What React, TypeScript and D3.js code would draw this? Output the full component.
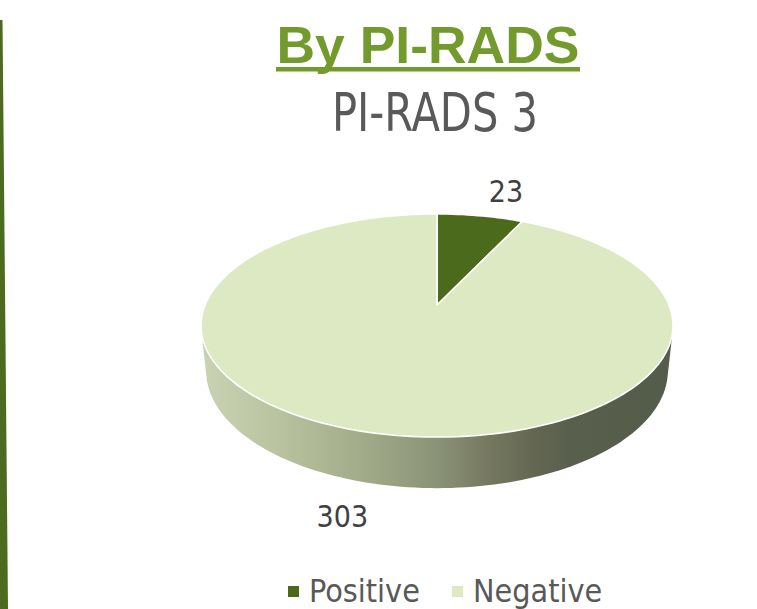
import React from "react";
import * as d3 from "d3";

const title = "By PI-RADS";
const subtitle = "PI-RADS 3";
const categories = ["Positive", "Negative"];
const values = [23, 303];
const topColors = ["#4b6a1b", "#dde9c2"];

const W = 757;
const H = 609;

// 3D perspective parameters
const CX = 437;
const CY = 305;
const PHI = (27.7 * Math.PI) / 180;
const DIST = 4.82;
const FOC = 1118;
const DEPTH = 0.222;

function project(theta: number, r: number, y: number): [number, number] {
  const u = r * Math.sin(theta);
  const v = r * Math.cos(theta);
  const up = v * Math.sin(PHI) + y * Math.cos(PHI);
  const depth = DIST + v * Math.cos(PHI) - y * Math.sin(PHI);
  return [CX + (FOC * u) / depth, CY - (FOC * up) / depth];
}

export default function App() {
  const pie = d3.pie<number>().sort(null).value((d) => d);
  const arcs = pie(values);

  const steps = 240;
  const rimPts: [number, number][] = [];
  for (let i = 0; i < steps; i++) {
    const t = (i / steps) * Math.PI * 2;
    rimPts.push(project(t, 1, 0));
    rimPts.push(project(t, 1, -DEPTH));
  }
  const hull = d3.polygonHull(rimPts) || [];
  const line = d3.line<[number, number]>().curve(d3.curveLinearClosed);

  const slicePaths = arcs.map((a) => {
    const pts: [number, number][] = [project(0, 0, 0)];
    const n = Math.max(8, Math.ceil(((a.endAngle - a.startAngle) / (Math.PI * 2)) * steps));
    for (let i = 0; i <= n; i++) {
      const t = a.startAngle + ((a.endAngle - a.startAngle) * i) / n;
      pts.push(project(t, 1, 0));
    }
    return line(pts) || "";
  });

  // label positions: outside the slice at its mid angle
  const labelPts = arcs.map((a) => {
    const mid = (a.startAngle + a.endAngle) / 2;
    const onTop = Math.cos(mid) > 0;
    const p = project(mid, 1, onTop ? 0 : -DEPTH);
    const dx = p[0] - CX;
    const dy = p[1] - CY;
    const len = Math.hypot(dx, dy) || 1;
    const push = onTop ? 36 : 44;
    return [p[0] + (dx / len) * push + (onTop ? 10 : -20), p[1] + (dy / len) * push + (onTop ? 8 : -10)];
  });

  const legendX = [288, 452];

  return (
    <svg
      width={W}
      height={H}
      viewBox={`0 0 ${W} ${H}`}
      style={{ position: "absolute", left: 0, top: 0, background: "#ffffff" }}
    >
      <defs>
        <linearGradient id="sideGrad" gradientUnits="userSpaceOnUse" x1={203} y1={0} x2={673} y2={0}>
          <stop offset="0" stopColor="#c9d3b3" />
          <stop offset="0.15" stopColor="#bac4a1" />
          <stop offset="0.35" stopColor="#a0aa88" />
          <stop offset="0.5" stopColor="#8a9277" />
          <stop offset="0.6" stopColor="#777a61" />
          <stop offset="0.7" stopColor="#646853" />
          <stop offset="0.78" stopColor="#585f4c" />
          <stop offset="1" stopColor="#545c4a" />
        </linearGradient>
      </defs>
      <rect x={0} y={0} width={W} height={H} fill="#ffffff" />
      <polygon points="0,20 2.5,20 8,609 0,609" fill="#4c6b1e" />

      <text
        x={428}
        y={63}
        textAnchor="middle"
        fontFamily="Liberation Sans, Arial, sans-serif"
        fontWeight="bold"
        fontSize={52}
        fill="#739a2c"
        textLength={303}
        lengthAdjust="spacingAndGlyphs"
      >
        {title}
      </text>
      <rect x={276} y={67} width={304} height={4.5} fill="#739a2c" />
      <text
        x={435}
        y={131}
        textAnchor="middle"
        fontFamily="Liberation Sans Narrow, DejaVu Sans Condensed, sans-serif"
        fontSize={53}
        fill="#595959"
        textLength={206}
        lengthAdjust="spacingAndGlyphs"
      >
        {subtitle}
      </text>

      <path d={line(hull as [number, number][]) || ""} fill="url(#sideGrad)" />
      {slicePaths.map((d, i) => (
        <path key={i} d={d} fill={topColors[i]} stroke="#ffffff" strokeWidth={1.6} strokeLinejoin="round" />
      ))}

      {arcs.map((a, i) => (
        <text
          key={i}
          x={labelPts[i][0]}
          y={labelPts[i][1] + 11}
          textAnchor="middle"
          fontFamily="DejaVu Sans Condensed, DejaVu Sans, sans-serif"
          fontSize={30}
          fill="#404040"
        >
          {values[i]}
        </text>
      ))}

      {categories.map((c, i) => (
        <g key={c}>
          <rect x={legendX[i]} y={586} width={11} height={11} fill={topColors[i]} />
          <text
            x={legendX[i] + 21}
            y={602}
            fontFamily="DejaVu Sans Condensed, DejaVu Sans, sans-serif"
            fontSize={32}
            fill="#595959"
          >
            {c}
          </text>
        </g>
      ))}
    </svg>
  );
}
